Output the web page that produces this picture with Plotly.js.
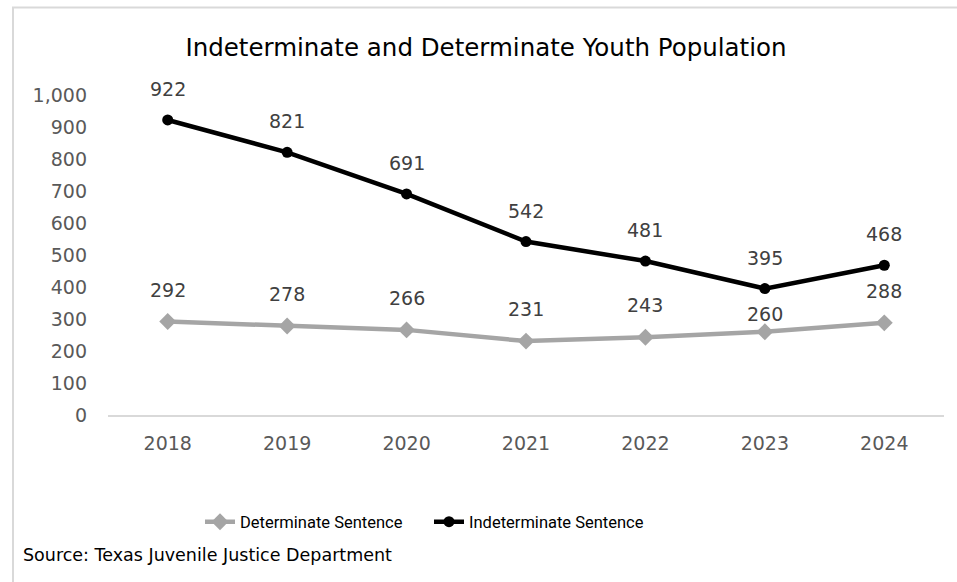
<!DOCTYPE html>
<html>
<head>
<meta charset="utf-8">
<script src="https://cdn.plot.ly/plotly-3.0.1.min.js"></script>
<style>
html,body{margin:0;padding:0;background:#fff;}
#chart{width:957px;height:582px;}
</style>
</head>
<body>
<div id="chart"></div>
<script>
var years = ["2018","2019","2020","2021","2022","2023","2024"];
var determinate = [292, 278, 266, 231, 243, 260, 288];
var indeterminate = [922, 821, 691, 542, 481, 395, 468];
var yTickVals = [0,100,200,300,400,500,600,700,800,900,1000];
var yTickText = ["0","100","200","300","400","500","600","700","800","900","1,000"];

var FONT = "DejaVu Sans, sans-serif";
var PLOT_H = 320, Y_MAX = 1000;

var traces = [
  {
    x: years, y: determinate, name: "Determinate Sentence",
    type: "scatter", mode: "lines+markers",
    line: {color: "#A5A5A5", width: 4.5},
    marker: {symbol: "diamond", size: 13, color: "#A5A5A5"},
    hoverinfo: "skip"
  },
  {
    x: years, y: indeterminate, name: "Indeterminate Sentence",
    type: "scatter", mode: "lines+markers",
    line: {color: "#000000", width: 4.5},
    marker: {symbol: "circle", size: 11, color: "#000000"},
    hoverinfo: "skip"
  }
];

var annotations = [];
function addLabels(vals, other, shift) {
  for (var i = 0; i < years.length; i++) {
    var s = shift;
    // squeeze the label down when the series above is too close (as the reference does)
    if (other && (other[i] - vals[i]) * PLOT_H / Y_MAX < 50) s = 18;
    annotations.push({
      x: i, y: vals[i], xref: "x", yref: "y",
      text: String(vals[i]), showarrow: false,
      yshift: s, yanchor: "middle",
      font: {family: FONT, size: 19, color: "#404040"}
    });
  }
}
addLabels(indeterminate, null, 31);
addLabels(determinate, indeterminate, 32);

annotations.push({
  xref: "paper", yref: "paper",
  x: (21 - 108) / 836, y: (415 - 555) / 320,
  xanchor: "left", yanchor: "middle",
  text: "Source: Texas Juvenile Justice Department",
  showarrow: false,
  font: {family: FONT, size: 17.5, color: "#000000"}
});

var layout = {
  width: 957, height: 582,
  margin: {l: 108, r: 13, t: 95, b: 167, pad: 0},
  paper_bgcolor: "#ffffff", plot_bgcolor: "#ffffff",
  title: {
    text: "Indeterminate and Determinate Youth Population",
    font: {family: FONT, size: 24.5, color: "#000000"},
    xref: "container", yref: "container",
    x: 486 / 957, y: 1 - 47 / 582, xanchor: "center", yanchor: "middle"
  },
  xaxis: {
    type: "category",
    range: [-0.5, years.length - 0.5],
    showgrid: false, zeroline: false,
    showline: true, linecolor: "#D9D9D9", linewidth: 1.5,
    ticks: "", ticklabelstandoff: 11,
    tickfont: {family: FONT, size: 19, color: "#595959"},
    fixedrange: true
  },
  yaxis: {
    range: [0, Y_MAX],
    tickvals: yTickVals, ticktext: yTickText,
    showgrid: false, zeroline: false, showline: false,
    ticks: "", ticklabelstandoff: 20,
    tickfont: {family: FONT, size: 19, color: "#595959"},
    fixedrange: true
  },
  showlegend: true,
  legend: {
    orientation: "h",
    x: (200 - 108) / 836, xanchor: "left",
    y: (415 - 522) / 320, yanchor: "middle",
    font: {family: "Roboto, sans-serif", size: 16.5, color: "#000000"},
    entrywidth: 184, entrywidthmode: "pixels",
    bgcolor: "rgba(0,0,0,0)"
  },
  annotations: annotations,
  shapes: [{
    type: "rect", xref: "paper", yref: "paper",
    x0: (13 - 108) / 836, x1: (975 - 108) / 836,
    y0: (415 - 600) / 320, y1: (415 - 7.5) / 320,
    line: {color: "#D9D9D9", width: 2}, fillcolor: "rgba(0,0,0,0)",
    layer: "below"
  }]
};

Plotly.newPlot("chart", traces, layout, {displayModeBar: false, staticPlot: true});
</script>
</body>
</html>
